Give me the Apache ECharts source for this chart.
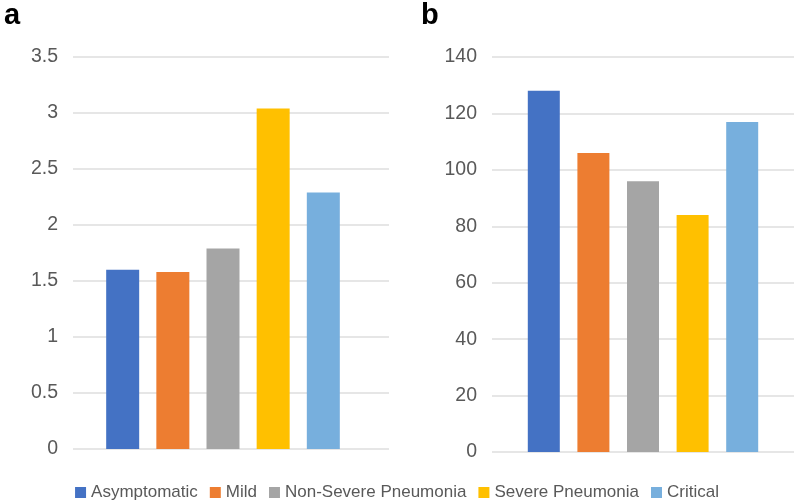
<!DOCTYPE html>
<html>
<head>
<meta charset="utf-8">
<script src="https://cdn.jsdelivr.net/npm/echarts@6/dist/echarts.min.js"></script>
<style>
  html, body { margin: 0; padding: 0; background: #fff; }
  #main { width: 794px; height: 500px; }
</style>
</head>
<body>
<div id="main"></div>
<script>
// groups shown in the legend
const groups = ['Asymptomatic', 'Mild', 'Non-Severe Pneumonia', 'Severe Pneumonia', 'Critical']
const colors = ['#4472C4', '#ED7D31', '#A5A5A5', '#FFC000', '#77AFDD']

// panel a values
const valuesA = [1.6, 1.58, 1.79, 3.04, 2.29]
// panel b values
const valuesB = [128, 106, 96, 84, 117]

const font = '"Liberation Sans", Arial, sans-serif'
const labelStyle = { color: '#595959', fontSize: 19.5, fontFamily: font, margin: 15 }
const gridLine = { show: true, lineStyle: { color: '#DEDEDE', width: 1.5 } }

const chart = echarts.init(document.getElementById('main'))

function hiddenCat(gridIndex) {
	return { type: 'category', gridIndex, data: [''], show: false }
}

const series = []
groups.forEach((name, i) => {
	series.push({
		type: 'bar', name, xAxisIndex: 1, yAxisIndex: 1,
		data: [valuesA[i]], barWidth: 33, barGap: '52%',
		itemStyle: { color: colors[i] },
	})
})
groups.forEach((name, i) => {
	series.push({
		type: 'bar', name, xAxisIndex: 2, yAxisIndex: 2,
		data: [valuesB[i]], barWidth: 32, barGap: '55%',
		itemStyle: { color: colors[i] },
	})
})

const option = {
	animation: false,
	backgroundColor: '#fff',
	title: [
		{ text: 'a', left: -1, top: -4, textStyle: { fontSize: 29, fontWeight: 'bold', color: '#000', fontFamily: font } },
		{ text: 'b', left: 416, top: -4, textStyle: { fontSize: 29, fontWeight: 'bold', color: '#000', fontFamily: font } },
	],
	legend: {
		data: groups,
		left: 'center',
		top: 484,
		padding: 0,
		itemWidth: 11,
		itemHeight: 11,
		itemGap: 12,
		icon: 'rect',
		textStyle: { color: '#595959', fontSize: 17, fontFamily: font },
	},
	grid: [
		// panel a: gridlines + labels
		{ left: 73, right: 405, top: 57, bottom: 51 },
		// panel a: bars
		{ left: 73, width: 300, top: 57, bottom: 51 },
		// panel b
		{ left: 492, right: 0, top: 57, bottom: 48 },
	],
	xAxis: [hiddenCat(0), hiddenCat(1), hiddenCat(2)],
	yAxis: [
		{
			type: 'value', gridIndex: 0, min: 0, max: 3.5, interval: 0.5,
			axisLine: { show: false }, axisTick: { show: false },
			axisLabel: labelStyle, splitLine: gridLine,
		},
		{ type: 'value', gridIndex: 1, min: 0, max: 3.5, interval: 0.5, show: false, splitLine: { show: false } },
		{
			type: 'value', gridIndex: 2, min: 0, max: 140, interval: 20,
			axisLine: { show: false }, axisTick: { show: false },
			axisLabel: labelStyle, splitLine: gridLine,
		},
	],
	series,
}

chart.setOption(option)
</script>
</body>
</html>
